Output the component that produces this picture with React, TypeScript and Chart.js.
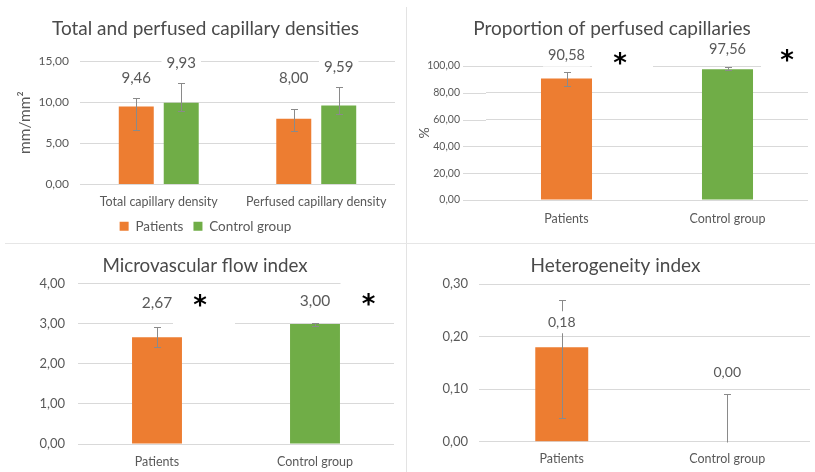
import React, { useEffect, useRef } from 'react';
import { Chart, registerables } from 'chart.js';

Chart.register(...registerables);

// ---------- data ----------
const seriesNames = ['Patients', 'Control group'];

const densityCategories = ['Total capillary density', 'Perfused capillary density'];
const densityPatients = [9.46, 8.0];
const densityPatientsLow = [6.6, 6.5];
const densityPatientsHigh = [10.5, 9.2];
const densityControl = [9.93, 9.59];
const densityControlLow = [8.9, 8.6];
const densityControlHigh = [12.3, 11.9];
const densityTicks = [0, 5, 10, 15];

const groupCategories = ['Patients', 'Control group'];

const perfusedProportion = [90.58, 97.56];
const perfusedProportionLow = [85.1, 96.8];
const perfusedProportionHigh = [95.7, 99.2];
const perfusedTicks = [0, 20, 40, 60, 80, 100];
const perfusedSignificance = ['*', '*'];

const mfiValues = [2.67, 3.0];
const mfiLow = [2.42, 2.95];
const mfiHigh = [2.92, 3.02];
const mfiTicks = [0, 1, 2, 3, 4];
const mfiSignificance = ['*', '*'];

const hiValues = [0.18, 0.0];
const hiLow = [0.045, 0.0];
const hiHigh = [0.27, 0.09];
const hiTicks = [0, 0.1, 0.2, 0.3];

// ---------- style ----------
const FONT = 'Lato, "Noto Sans", sans-serif';
const ORANGE = '#ED7D31';
const GREEN = '#70AD47';
const TEXT = '#595959';
const TITLE = '#4a4a4a';
const GRID = '#D9D9D9';
const ERR = '#8a8a8a';

const fmt = (v: number) => v.toFixed(2).replace('.', ',');

const annotPlugin = {
  id: 'annot',
  beforeDatasetsDraw(chart: any, _a: any, opts: any) {
    if (opts.gridFrom == null) return;
    const ctx = chart.ctx;
    const y = chart.scales.y;
    ctx.save();
    ctx.strokeStyle = GRID;
    ctx.lineWidth = 1;
    y.ticks.forEach((t: any) => {
      const py = Math.round(y.getPixelForValue(t.value)) + 0.5;
      ctx.beginPath();
      ctx.moveTo(opts.gridFrom, py);
      ctx.lineTo(chart.chartArea.left, py);
      ctx.stroke();
    });
    ctx.restore();
  },
  afterDatasetsDraw(chart: any, _a: any, opts: any) {
    const ctx = chart.ctx;
    const y = chart.scales.y;
    ctx.save();
    // error bars
    chart.data.datasets.forEach((ds: any, di: number) => {
      const meta = chart.getDatasetMeta(di);
      meta.data.forEach((bar: any, i: number) => {
        if (!ds.errLow) return;
        const xs = Math.round(bar.x) + 0.5;
        const yl = Math.round(y.getPixelForValue(ds.errLow[i])) + 0.5;
        const yh = Math.round(y.getPixelForValue(ds.errHigh[i])) + 0.5;
        const cap = 3.5;
        ctx.strokeStyle = ERR;
        ctx.lineWidth = 1;
        ctx.beginPath();
        ctx.moveTo(xs, yl);
        ctx.lineTo(xs, yh);
        ctx.moveTo(xs - cap, yh);
        ctx.lineTo(xs + cap, yh);
        if (ds.errLow[i] > y.min) {
          ctx.moveTo(xs - cap, yl);
          ctx.lineTo(xs + cap, yl);
        }
        ctx.stroke();
      });
    });
    // value labels and significance marks
    chart.data.datasets.forEach((ds: any, di: number) => {
      const meta = chart.getDatasetMeta(di);
      meta.data.forEach((bar: any, i: number) => {
        const text = fmt(ds.data[i]);
        ctx.font = `${opts.labelSize}px ${FONT}`;
        const w = ctx.measureText(text).width;
        const cx = bar.x;
        const cy = bar.y - opts.labelOffsets[di][i];
        ctx.fillStyle = '#ffffff';
        ctx.fillRect(cx - w / 2 - 5, cy - 11, w + 10, 22);
        ctx.fillStyle = TEXT;
        ctx.textAlign = 'center';
        ctx.textBaseline = 'middle';
        ctx.fillText(text, cx, cy);
        if (ds.marks && ds.marks[i] && opts.marks) {
          const m = opts.marks[i];
          const mx = bar.x + m.dx;
          const my = bar.y + m.dy;
          ctx.fillStyle = '#ffffff';
          ctx.fillRect(mx + m.bx, my + m.by, m.bw, m.bh);
          ctx.font = `bold 26px "DejaVu Sans", sans-serif`;
          const mm = ctx.measureText(ds.marks[i]);
          const base = my + (mm.actualBoundingBoxAscent - mm.actualBoundingBoxDescent) / 2;
          ctx.fillStyle = '#000000';
          ctx.textBaseline = 'alphabetic';
          ctx.fillText(ds.marks[i], mx, base);
        }
      });
    });
    ctx.restore();
  },
};

type P = {
  title: string;
  titleSize: number;
  titlePadTop: number;
  titlePadBottom: number;
  padL: number;
  padR: number;
  padB: number;
  yWidth: number;
  tickSize: number;
  tickPad: number;
  ticks: number[];
  yTitle?: string;
  yTitleSize?: number;
  xSize: number;
  xPad: number;
  xHeight: number;
  legend?: boolean;
  annot: any;
};

function makeOptions(p: P): any {
  return {
    responsive: false,
    animation: false,
    devicePixelRatio: 1,
    events: [],
    layout: { padding: { left: p.padL, right: p.padR, top: 0, bottom: p.padB } },
    plugins: {
      title: {
        display: true,
        text: p.title,
        color: TITLE,
        font: { family: FONT, size: p.titleSize, weight: 'normal' },
        padding: { top: p.titlePadTop, bottom: p.titlePadBottom },
      },
      legend: p.legend
        ? {
            display: true,
            position: 'bottom',
            labels: {
              boxWidth: 9,
              boxHeight: 9,
              color: TEXT,
              font: { family: FONT, size: 13.5 },
              padding: 10,
            },
          }
        : { display: false },
      tooltip: { enabled: false },
      annot: p.annot,
    },
    scales: {
      x: {
        grid: { display: false, drawTicks: false },
        border: { display: false },
        ticks: {
          color: TEXT,
          font: { family: FONT, size: p.xSize },
          padding: p.xPad,
          maxRotation: 0,
          autoSkip: false,
        },
        afterFit: (s: any) => {
          s.height = p.xHeight;
        },
      },
      y: {
        min: p.ticks[0],
        max: p.ticks[p.ticks.length - 1],
        grid: { color: GRID, drawTicks: false },
        border: { display: false },
        ticks: {
          color: TEXT,
          font: { family: FONT, size: p.tickSize },
          padding: p.tickPad,
          callback: (v: any) => fmt(Number(v)),
        },
        afterBuildTicks: (s: any) => {
          s.ticks = p.ticks.map((v) => ({ value: v }));
        },
        afterFit: (s: any) => {
          s.width = p.yWidth;
        },
        title: p.yTitle
          ? {
              display: true,
              text: p.yTitle,
              color: TEXT,
              font: { family: FONT, size: p.yTitleSize },
              padding: { top: 0, bottom: 0 },
            }
          : { display: false },
      },
    },
  };
}

function buildDensity(): any {
  return {
    type: 'bar',
    data: {
      labels: densityCategories,
      datasets: [
        {
          label: seriesNames[0],
          data: densityPatients,
          backgroundColor: ORANGE,
          errLow: densityPatientsLow,
          errHigh: densityPatientsHigh,
          barPercentage: 0.778,
          categoryPercentage: 0.571,
        },
        {
          label: seriesNames[1],
          data: densityControl,
          backgroundColor: GREEN,
          errLow: densityControlLow,
          errHigh: densityControlHigh,
          barPercentage: 0.778,
          categoryPercentage: 0.571,
        },
      ],
    },
    options: makeOptions({
      title: 'Total and perfused capillary densities',
      titleSize: 19,
      titlePadTop: 17.6,
      titlePadBottom: 20.6,
      padL: 16,
      padR: 11,
      padB: 0,
      yWidth: 64,
      tickSize: 12,
      tickPad: 11,
      ticks: densityTicks,
      yTitle: 'mm/mm²',
      yTitleSize: 15.5,
      xSize: 12.5,
      xPad: 10,
      xHeight: 25,
      legend: true,
      annot: { labelSize: 15, labelOffsets: [[28, 40], [40, 38]] },
    }),
    plugins: [annotPlugin],
  };
}

function buildProportion(): any {
  return {
    type: 'bar',
    data: {
      labels: groupCategories,
      datasets: [
        {
          label: 'Proportion',
          data: perfusedProportion,
          backgroundColor: [ORANGE, GREEN],
          errLow: perfusedProportionLow,
          errHigh: perfusedProportionHigh,
          marks: perfusedSignificance,
          barPercentage: 0.317,
          categoryPercentage: 1,
        },
      ],
    },
    options: makeOptions({
      title: 'Proportion of perfused capillaries',
      titleSize: 19,
      titlePadTop: 17.6,
      titlePadBottom: 25.6,
      padL: 9,
      padR: 7,
      padB: 0,
      yWidth: 70,
      tickSize: 10.5,
      tickPad: 26,
      ticks: perfusedTicks,
      yTitle: '%',
      yTitleSize: 14,
      xSize: 12.5,
      xPad: 11,
      xHeight: 43,
      annot: {
        gridFrom: 56,
        labelSize: 14.5,
        labelOffsets: [[23, 20]],
        marks: [
          { dx: 53.5, dy: -13, bx: -28, by: -20, bw: 61, bh: 40 },
          { dx: 59.5, dy: -7, bx: -26, by: -20, bw: 52, bh: 40 },
        ],
      },
    }),
    plugins: [annotPlugin],
  };
}

function buildMfi(): any {
  return {
    type: 'bar',
    data: {
      labels: groupCategories,
      datasets: [
        {
          label: 'MFI',
          data: mfiValues,
          backgroundColor: [ORANGE, GREEN],
          errLow: mfiLow,
          errHigh: mfiHigh,
          marks: mfiSignificance,
          barPercentage: 0.316,
          categoryPercentage: 1,
        },
      ],
    },
    options: makeOptions({
      title: 'Microvascular flow index',
      titleSize: 18.8,
      titlePadTop: 10.7,
      titlePadBottom: 6.7,
      padL: 16,
      padR: 12,
      padB: 0,
      yWidth: 62,
      tickSize: 13,
      tickPad: 13,
      ticks: mfiTicks,
      xSize: 12.5,
      xPad: 10.5,
      xHeight: 28,
      annot: {
        labelSize: 15.5,
        labelOffsets: [[34, 23]],
        marks: [
          { dx: 43, dy: -30, bx: -27, by: -18, bw: 62, bh: 38 },
          { dx: 53.5, dy: -18, bx: -28, by: -26, bw: 56, bh: 40 },
        ],
      },
    }),
    plugins: [annotPlugin],
  };
}

function buildHi(): any {
  return {
    type: 'bar',
    data: {
      labels: groupCategories,
      datasets: [
        {
          label: 'HI',
          data: hiValues,
          backgroundColor: [ORANGE, GREEN],
          errLow: hiLow,
          errHigh: hiHigh,
          barPercentage: 0.32,
          categoryPercentage: 1,
        },
      ],
    },
    options: makeOptions({
      title: 'Heterogeneity index',
      titleSize: 19,
      titlePadTop: 10.6,
      titlePadBottom: 6.9,
      padL: 14,
      padR: 5,
      padB: 0,
      yWidth: 58,
      tickSize: 13,
      tickPad: 11,
      ticks: hiTicks,
      xSize: 12.5,
      xPad: 10,
      xHeight: 30.3,
      annot: { labelSize: 14, labelOffsets: [[25, 69]] },
    }),
    plugins: [annotPlugin],
  };
}

function Panel(props: { left: number; top: number; width: number; height: number; build: () => any }) {
  const ref = useRef<HTMLCanvasElement>(null);
  useEffect(() => {
    const chart = new Chart(ref.current as HTMLCanvasElement, props.build());
    return () => chart.destroy();
  }, []);
  return (
    <canvas
      ref={ref}
      width={props.width}
      height={props.height}
      style={{ position: 'absolute', left: props.left, top: props.top, width: props.width, height: props.height }}
    />
  );
}

export default function App() {
  return (
    <div
      style={{
        position: 'fixed',
        left: 0,
        top: 0,
        width: 815,
        height: 472,
        background: '#ffffff',
        overflow: 'hidden',
      }}
    >
      <Panel left={0} top={0} width={406} height={243} build={buildDensity} />
      <Panel left={407} top={0} width={408} height={243} build={buildProportion} />
      <Panel left={0} top={244} width={406} height={228} build={buildMfi} />
      <Panel left={407} top={244} width={408} height={228} build={buildHi} />
      <div style={{ position: 'absolute', left: 406, top: 7, width: 1, height: 465, background: '#e3e3e3' }} />
      <div style={{ position: 'absolute', left: 5, top: 243, width: 810, height: 1, background: '#e6e6e6' }} />
    </div>
  );
}
